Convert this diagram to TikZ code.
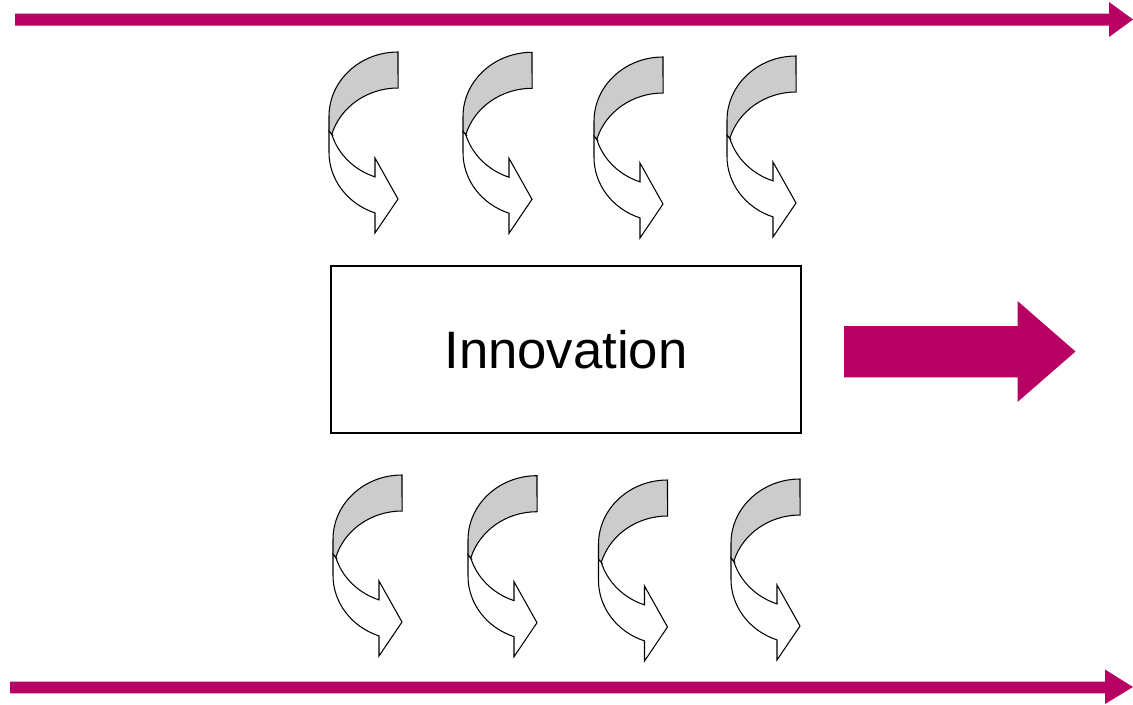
\documentclass[tikz,border=0pt]{standalone}
\usepackage{fontspec}
\setmainfont{Liberation Sans}
\definecolor{magent}{RGB}{184,0,100}
\definecolor{backgrey}{RGB}{204,204,204}
\tikzset{
  outline/.style={draw=black,line width=0.6pt,line join=miter},
  flowarrow/.style={fill=magent,draw=none},
  innobox/.style={draw=black,line width=0.6pt,fill=white,minimum width=470*0.02cm,minimum height=167*0.02cm,inner sep=0pt,font=\fontsize{30}{36}\selectfont},
  curvarrow/.pic={
    % front (white) band
    \path[outline,fill=white] (-66.2,82.3) -- (-69,79) -- (-69,100.3)
      arc[start angle=180,end angle=109.47,x radius=69,y radius=64.3]
      -- (-23,181) -- (0,147) -- (-23,106) -- (-23,124.9)
      arc[start angle=109.47,end angle=163.74,x radius=69,y radius=64.3] -- cycle;
    % back (grey) band
    \path[outline,fill=backgrey] (0,0)
      arc[start angle=270,end angle=180,x radius=69,y radius=64.3]
      -- (-69,79) -- (-66.2,82.3)
      arc[start angle=196.26,end angle=270,x radius=69,y radius=64.3] -- cycle;
  }
}
\begin{document}
\begin{tikzpicture}[x=0.02cm,y=-0.02cm]
\useasboundingbox (0,0) rectangle (1133,704);
% long arrows
\coordinate (toptip) at (1133,19.5);
\fill[flowarrow] (15,13.5) -- (1109,13.5) -- (1109,2) -- (toptip) -- (1109,37) -- (1109,25.5) -- (15,25.5) -- cycle;
\coordinate (bottip) at (1133,687);
\fill[flowarrow] (10,681.7) -- (1105,681.7) -- (1105,669.5) -- (bottip) -- (1105,704) -- (1105,693.3) -- (10,693.3) -- cycle;
% box
\node[innobox] (inno) at (566,349.5) {Innovation};
% big arrow
\fill[flowarrow] (844,326) -- (1017.5,326) -- (1017.5,301) -- (1075.5,351.5) -- (1017.5,402) -- (1017.5,377.3) -- (844,377.3) -- cycle;
% curved arrows
\foreach \px/\py [count=\i] in {398/52, 532/52.3, 663/57, 796/56, 402/475, 537/475.7, 667.5/480, 800/479}
  \pic (ca\i) at (\px,\py) {curvarrow};
\end{tikzpicture}
\end{document}
